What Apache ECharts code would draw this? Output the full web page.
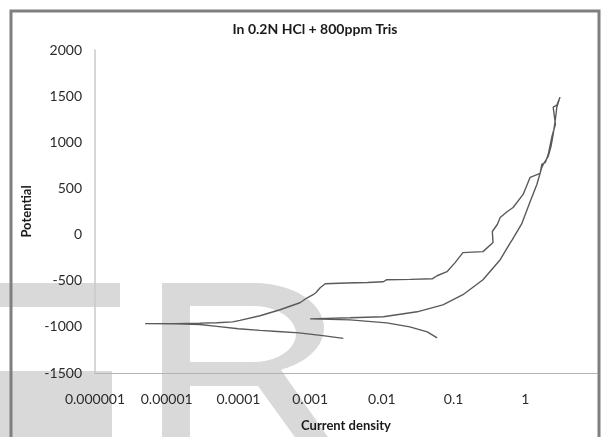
<!DOCTYPE html>
<html>
<head>
<meta charset="utf-8">
<script src="https://cdn.jsdelivr.net/npm/echarts@6/dist/echarts.min.js"></script>
<style>
  html, body { margin: 0; padding: 0; background: #fff; }
  #chart { width: 604px; height: 437px; }
</style>
</head>
<body>
<div id="chart"></div>
<script>
// Cyclic polarisation scan, potential (mV) against current density (log scale)
// Cathodic branch, from the start of the scan down to the corrosion potential
const cathodicCurrent = [0.0029, 0.0015, 0.0007, 0.00035, 0.0002, 0.0001, 0.00005, 0.000029, 0.000013, 0.000005];
const cathodicPotential = [-1125, -1095, -1065, -1050, -1038, -1020, -995, -975, -968, -965];

// Forward anodic sweep up to the vertex
const anodicCurrent = [0.000013, 0.000029, 0.00005, 0.000083, 0.000105, 0.0002, 0.00038, 0.00072, 0.00091, 0.0011,
  0.0012, 0.00125, 0.00138, 0.00162, 0.0032, 0.0063, 0.0105, 0.0117, 0.025, 0.051, 0.059, 0.081, 0.105, 0.135,
  0.257, 0.355, 0.347, 0.407, 0.447, 0.562, 0.676, 0.933, 1.17, 1.24, 1.61, 1.70, 1.91, 2.09, 2.34, 2.63, 2.45, 2.75, 3.05];
const anodicPotential = [-965, -960, -955, -946, -930, -880, -815, -739, -685, -652,
  -630, -618, -576, -533, -525, -520, -511, -489, -485, -478, -446, -402, -304, -196,
  -185, -87, 33, 109, 185, 250, 293, 435, 620, 641, 663, 761, 783, 870, 1054, 1196, 1380, 1402, 1489];

// Reverse sweep back to the second corrosion potential
const reverseCurrent = [2.75, 2.63, 2.45, 2.29, 2.09, 1.78, 1.70, 1.45, 1.17, 0.89, 0.66, 0.62, 0.447, 0.257,
  0.135, 0.071, 0.031, 0.0105, 0.0036, 0.001];
const reversePotential = [1380, 1250, 1087, 960, 848, 761, 728, 543, 359, 115, -54, -87, -272, -489,
  -652, -761, -837, -891, -902, -913];

// Cathodic tail after the reverse sweep
const returnCurrent = [0.0036, 0.0117, 0.0245, 0.043, 0.059];
const returnPotential = [-924, -957, -1000, -1054, -1120];

// Axis ticks
const xTickLabels = ['0.000001', '0.00001', '0.0001', '0.001', '0.01', '0.1', '1'];
const yTickValues = [-1500, -1000, -500, 0, 500, 1000, 1500, 2000];

function pairs(xs, ys) {
  return xs.map((x, i) => [x, ys[i]]);
}

const scanData = [].concat(
  pairs(cathodicCurrent, cathodicPotential),
  pairs(anodicCurrent, anodicPotential),
  pairs(reverseCurrent, reversePotential),
  pairs(returnCurrent, returnPotential)
);

// Half-ellipse outline used for the rounded part of the background letter
function arcPoints(cx, cy, rx, ry, fromDeg, toDeg, steps) {
  const pts = [];
  for (let i = 0; i <= steps; i++) {
    const a = (fromDeg + (toDeg - fromDeg) * i / steps) * Math.PI / 180;
    pts.push([cx + rx * Math.cos(a), cy + ry * Math.sin(a)]);
  }
  return pts;
}

const letterOuter = [[162, 440], [162, 283], [255, 283]]
  .concat(arcPoints(255, 328, 69, 45, -90, 68, 24))
  .concat([[330, 440], [297, 440], [258, 386], [190, 386], [190, 440]]);
const letterCounter = [[190, 306], [253, 306]]
  .concat(arcPoints(253, 334, 43, 28, -90, 90, 20))
  .concat([[190, 362]]);

const FONT = 'Lato, "Open Sans", "Liberation Sans", sans-serif';
const WM = '#d9d9d9';

const chart = echarts.init(document.getElementById('chart'), null, { renderer: 'canvas' });

chart.setOption({
  animation: false,
  backgroundColor: '#ffffff',
  title: {
    text: 'In 0.2N HCl + 800ppm Tris',
    left: 310,
    top: 17,
    textAlign: 'center',
    textStyle: { fontFamily: FONT, fontSize: 14, fontWeight: 'bold', color: '#1a1a1a' }
  },
  grid: { left: 95, right: 7, top: 50, bottom: 64, containLabel: false },
  xAxis: {
    type: 'log',
    logBase: 10,
    min: 0.000001,
    max: 10,
    name: 'Current density',
    nameLocation: 'middle',
    nameGap: 46,
    nameTextStyle: { fontFamily: FONT, fontSize: 13, fontWeight: 'bold', color: '#1a1a1a' },
    axisLine: { show: true, onZero: false, lineStyle: { color: '#b3b3b3', width: 1 } },
    axisTick: { show: false },
    splitLine: { show: false },
    axisLabel: {
      fontFamily: FONT, fontSize: 14, color: '#2b2b2b', margin: 19,
      formatter: function (v) {
        const k = Math.round(Math.log10(v)) + 6;
        return xTickLabels[k] !== undefined ? xTickLabels[k] : '';
      }
    }
  },
  yAxis: {
    type: 'value',
    min: -1500,
    max: 2000,
    interval: 500,
    name: 'Potential',
    nameLocation: 'middle',
    nameGap: 62,
    nameRotate: 90,
    nameTextStyle: { fontFamily: FONT, fontSize: 13, fontWeight: 'bold', color: '#1a1a1a' },
    axisLine: { show: true, onZero: false, lineStyle: { color: '#c8c8c8', width: 1.5 } },
    axisTick: { show: false },
    splitLine: { show: false },
    axisLabel: {
      fontFamily: FONT, fontSize: 14, color: '#2b2b2b', margin: 13,
      formatter: function (v) { return yTickValues.indexOf(v) >= 0 ? String(v) : ''; }
    }
  },
  series: [{
    type: 'line',
    data: scanData,
    showSymbol: false,
    symbol: 'none',
    smooth: false,
    z: 5,
    lineStyle: { color: '#5a5a5a', width: 1.4 }
  }],
  graphic: [
    // faded lettering in the background
    { type: 'rect', z: -10, silent: true, shape: { x: 0, y: 283, width: 120, height: 24 }, style: { fill: WM } },
    { type: 'rect', z: -10, silent: true, shape: { x: 0, y: 371, width: 112, height: 70 }, style: { fill: WM } },
    { type: 'polygon', z: -10, silent: true, shape: { points: letterOuter }, style: { fill: WM } },
    { type: 'polygon', z: -9, silent: true, shape: { points: letterCounter }, style: { fill: '#ffffff' } },
    // chart frame
    { type: 'rect', z: 100, silent: true, shape: { x: 11, y: 11, width: 588, height: 440 }, style: { fill: 'none', stroke: '#7f7f7f', lineWidth: 3 } }
  ]
});
</script>
</body>
</html>
